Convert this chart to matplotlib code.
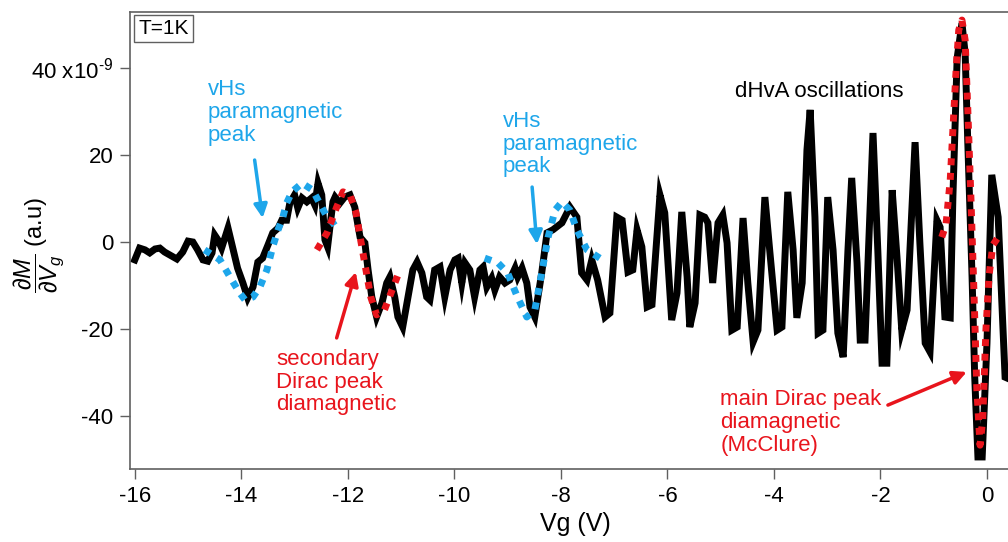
import matplotlib
matplotlib.use("Agg")
import matplotlib.pyplot as plt

plt.rcParams['font.family'] = ['Liberation Sans', 'DejaVu Sans']
plt.rcParams['mathtext.fontset'] = 'custom'
plt.rcParams['mathtext.rm'] = 'Liberation Sans'
plt.rcParams['mathtext.it'] = 'Liberation Sans:italic'
plt.rcParams['mathtext.bf'] = 'Liberation Sans:bold'

# ---- data (y in units of 1e-9) ----
vg = [-16.00, -15.91, -15.81, -15.72, -15.62, -15.53, -15.44, -15.34, -15.21, -15.10,
      -15.00, -14.91, -14.82, -14.72, -14.63, -14.55, -14.50, -14.44, -14.37, -14.25,
      -14.16, -14.07, -13.97, -13.88, -13.78, -13.69, -13.60, -13.50, -13.41, -13.31,
      -13.24, -13.15, -13.09, -13.00, -12.94, -12.86, -12.77, -12.68, -12.62, -12.56,
      -12.49, -12.43, -12.38, -12.28,
      -12.24, -12.15, -12.06, -11.96, -11.87, -11.77, -11.68, -11.62, -11.55, -11.46,
      -11.36, -11.27, -11.21, -11.12, -11.06, -10.97, -10.87, -10.78, -10.70, -10.61,
      -10.52, -10.46,
      -10.37, -10.27, -10.18, -10.08, -9.99, -9.93, -9.86, -9.80, -9.71, -9.62,
      -9.52, -9.46, -9.39, -9.30, -9.24, -9.15, -9.05, -8.96, -8.86, -8.81,
      -8.73, -8.64, -8.58,
      -8.49, -8.36, -8.26, -8.15, -7.98, -7.83, -7.70, -7.61, -7.51, -7.42,
      -7.31, -7.17, -7.08, -6.95, -6.85, -6.74, -6.65, -6.57, -6.48, -6.38,
      -6.29, -6.14, -6.05, -5.92, -5.82, -5.73, -5.63, -5.58, -5.48,
      -5.39, -5.30, -5.24, -5.15, -5.05, -4.96, -4.88, -4.79, -4.69, -4.58,
      -4.49, -4.39, -4.30, -4.17, -4.08, -3.94, -3.85, -3.74, -3.64, -3.57,
      -3.47, -3.38, -3.32, -3.23, -3.17, -3.08, -2.99, -2.89, -2.80, -2.70,
      -2.61, -2.54, -2.44, -2.38, -2.29, -2.14, -2.05, -1.97, -1.88, -1.78,
      -1.69, -1.60, -1.50, -1.35, -1.26, -1.16, -1.07, -0.94, -0.88, -0.79,
      -0.69, -0.64, -0.56, -0.47, -0.41, -0.36, -0.28, -0.23, -0.17, -0.09,
      0.00, 0.09, 0.21, 0.34, 0.47]
dMdVg = [-4.1, -1.4, -1.8, -2.5, -1.6, -1.4, -2.3, -3.0, -3.9, -2.3,
         0.2, 0.0, -1.8, -4.1, -4.4, -2.5, 1.6, 0.5, -1.4, 3.2,
         -1.4, -6.0, -9.4, -12.8, -10.3, -4.6, -3.7, -0.7, 2.1, 3.2,
         5.0, 5.0, 8.9, 10.8, 7.8, 10.1, 9.2, 10.1, 8.5, 13.5,
         10.8, 0.5, -1.1, 9.2,
         10.3, 8.9, 10.3, 10.8, 8.0, 1.1, -0.2, -6.4, -12.6, -17.2,
         -14.0, -9.4, -8.0, -12.6, -17.2, -19.5, -12.6, -6.4, -4.6, -7.1,
         -12.6, -13.3,
         -6.4, -5.7, -12.6, -6.4, -4.1, -3.7, -9.4, -4.8, -6.4, -12.6,
         -6.4, -5.7, -10.3, -8.3, -11.0, -8.0, -9.4, -8.7, -6.0, -8.0,
         -6.0, -9.4, -14.9,
         -17.2, -7.1, 2.1, 2.8, 4.4, 8.0, 5.7, -7.1, -8.7, -4.1,
         -8.7, -17.2, -16.3, 5.7, 5.0, -6.9, -6.4, 2.8, -1.1, -14.9,
         -14.4, 10.8, 6.7, -17.9, -11.7, 6.9, -8.0, -19.5, -14.0,
         6.2, 5.7, 4.4, -9.4, 4.4, 6.2, -0.2, -20.2, -19.5, 5.5,
         -9.4, -22.9, -20.2, 10.3, -1.8, -20.2, -19.5, 11.5, -1.8, -17.4,
         -9.4, 21.1, 30.3, 5.7, -20.9, -20.2, 10.3, -1.8, -20.9, -26.4,
         -1.8, 14.7, -4.8, -22.5, -22.5, 25.0, -1.8, -27.8, -27.8, 11.9,
         -3.4, -20.2, -15.6, 22.9, -0.2, -23.2, -25.2, 5.0, 3.4, -17.2,
         -17.4, 10.3, 42.2, 50.2, 43.3, 22.7, -8.0, -31.0, -49.3, -49.3,
         -23.2, 15.4, 5.7, -31.0, -31.7]

# fit: first vHs paramagnetic peak (blue)
vhs1_x = [-14.69, -14.40, -14.18, -14.03, -13.93, -13.78, -13.65, -13.52, -13.41, -13.31,
          -13.22, -13.15, -13.05, -12.86, -12.66, -12.53, -12.39, -12.28, -12.19]
vhs1_y = [-1.8, -4.1, -8.7, -11.7, -13.3, -12.6, -10.3, -6.4, -1.1, 2.8,
          5.7, 8.9, 11.5, 13.5, 11.9, 8.9, 5.7, 4.4, 2.8]

# fit: secondary Dirac peak (red)
dirac2_x = [-12.58, -12.39, -12.21, -12.09, -11.96, -11.85, -11.76, -11.66, -11.57, -11.46,
            -11.32, -11.19, -11.06]
dirac2_y = [-1.8, 2.1, 8.0, 11.5, 10.8, 6.9, 0.5, -6.4, -12.6, -16.7,
            -15.8, -11.7, -7.6]

# fit: second vHs paramagnetic peak (blue)
vhs2_x = [-9.43, -9.18, -9.00, -8.83, -8.64, -8.49, -8.36, -8.24, -8.11, -7.98,
          -7.83, -7.70, -7.51, -7.27]
vhs2_y = [-3.7, -4.8, -7.1, -12.2, -17.2, -15.6, -7.1, 1.1, 7.3, 9.2,
          7.3, 2.8, -1.8, -3.7]

# fit: main Dirac peak, McClure (red)
dirac1_x = [-0.85, -0.77, -0.69, -0.64, -0.58, -0.53, -0.47, -0.41, -0.36, -0.30,
            -0.24, -0.19, -0.13, -0.08, -0.02, 0.04, 0.11, 0.21]
dirac1_y = [1.1, 3.9, 14.2, 25.7, 39.4, 48.6, 50.9, 46.3, 30.3, 9.6,
            -13.3, -33.9, -46.6, -40.8, -20.2, -7.6, -0.7, 1.1]

xticks = [-16, -14, -12, -10, -8, -6, -4, -2, 0]
xticklabels = ['-16', '-14', '-12', '-10', '-8', '-6', '-4', '-2', '0']
yticks = [-40, -20, 0, 20, 40]
yticklabels = ['-40', '-20', '0', '20', '40 x10$^{\u2010 9}$']

BLUE = '#1ea6ea'
RED = '#e8141c'
GRAY = '#606060'

W, H = 1008, 542
fig = plt.figure(figsize=(W / 100, H / 100), dpi=100)
ax = fig.add_axes([130 / W, 73 / H, (1020 - 130) / W, 457 / H])

ax.plot(vg, dMdVg, color='black', lw=5.0, solid_joinstyle='miter', zorder=2)
dot = dict(lw=5.0, linestyle=(0, (1, 1.1)), zorder=3, dash_capstyle='butt')
ax.plot(vhs1_x, vhs1_y, color=BLUE, **dot)
ax.plot(vhs2_x, vhs2_y, color=BLUE, **dot)
ax.plot(dirac2_x, dirac2_y, color=RED, **dot)
ax.plot(dirac1_x, dirac1_y, color=RED, **dot)

ax.set_xlim(-16.09, 0.62)
ax.set_ylim(-52.06, 52.75)
ax.set_xticks(xticks)
ax.set_xticklabels(xticklabels)
ax.set_yticks(yticks)
ax.set_yticklabels(yticklabels)
ax.tick_params(direction='out', length=7, width=1.0, color=GRAY, labelsize=16, pad=5)
for s in ['left', 'bottom', 'top']:
    ax.spines[s].set_color(GRAY)
    ax.spines[s].set_linewidth(1.2)
ax.spines['right'].set_visible(False)

ax.set_xlabel('Vg (V)', fontsize=18, labelpad=4)
ax.set_ylabel(r'$\dfrac{\partial M}{\partial V_g}$ (a.u)', fontsize=17)
ax.yaxis.set_label_coords(-0.072, 0.49)

# annotations
fs = 16
ls = 1.1
ax.text(-14.63, 37.3, 'vHs\nparamagnetic\npeak', color=BLUE, fontsize=fs,
        ha='left', va='top', linespacing=ls)
ax.annotate('', xy=(-13.60, 5.5), xytext=(-13.75, 18.8),
            arrowprops=dict(arrowstyle='-|>', color=BLUE, lw=2.5, mutation_scale=20,
                            shrinkA=0, shrinkB=0))
ax.text(-9.09, 30.0, 'vHs\nparamagnetic\npeak', color=BLUE, fontsize=fs,
        ha='left', va='top', linespacing=ls)
ax.annotate('', xy=(-8.45, -0.5), xytext=(-8.54, 12.6),
            arrowprops=dict(arrowstyle='-|>', color=BLUE, lw=2.5, mutation_scale=20,
                            shrinkA=0, shrinkB=0))
ax.text(-13.35, -24.6, 'secondary\nDirac peak\ndiamagnetic', color=RED, fontsize=fs,
        ha='left', va='top', linespacing=ls)
ax.annotate('', xy=(-11.85, -6.9), xytext=(-12.21, -22.0),
            arrowprops=dict(arrowstyle='-|>', color=RED, lw=2.5, mutation_scale=20,
                            shrinkA=0, shrinkB=0))
ax.text(-4.73, 37.0, 'dHvA oscillations', color='black', fontsize=fs,
        ha='left', va='top')
ax.text(-5.01, -33.8, 'main Dirac peak\ndiamagnetic\n(McClure)', color=RED, fontsize=fs,
        ha='left', va='top', linespacing=ls)
ax.annotate('', xy=(-0.38, -29.8), xytext=(-1.86, -37.4),
            arrowprops=dict(arrowstyle='-|>', color=RED, lw=2.5, mutation_scale=20,
                            shrinkA=0, shrinkB=0))

ax.text(0.009, 0.985, 'T=1K', transform=ax.transAxes, fontsize=15, ha='left', va='top',
        bbox=dict(boxstyle='square,pad=0.2', fc='white', ec=GRAY, lw=1.0))

fig.savefig('out.png', dpi=100)
